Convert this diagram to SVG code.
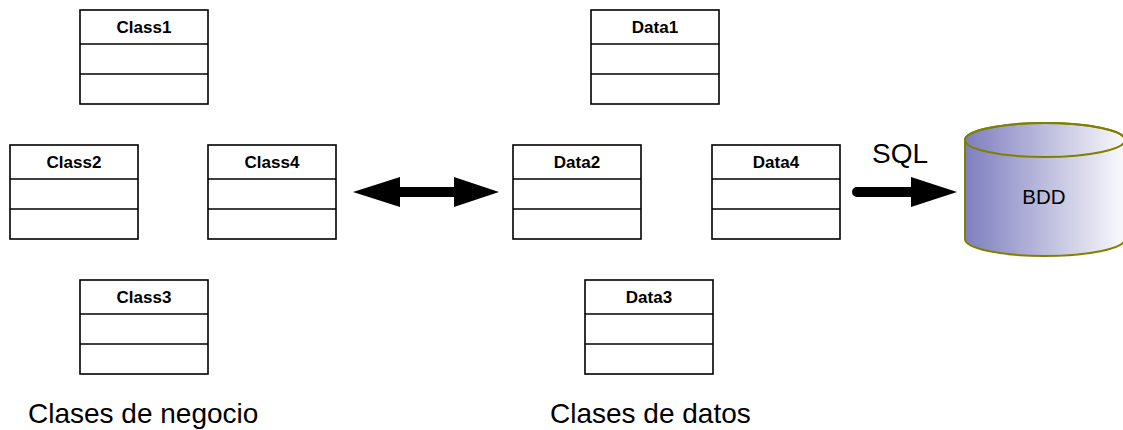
<svg xmlns="http://www.w3.org/2000/svg" width="1123" height="430" viewBox="0 0 1123 430">
<style>
.box{fill:#fff;stroke:#000;stroke-width:1.6}
.div{stroke:#000;stroke-width:1.6}
.lbl{font-family:"Liberation Sans",Arial,sans-serif;font-weight:bold;font-size:17px;text-anchor:middle;fill:#000}
.big{font-family:"Liberation Sans",Arial,sans-serif;font-size:28px;fill:#000}
</style>
<defs>
<linearGradient id="cyl" x1="0" y1="0" x2="1" y2="0">
<stop offset="0" stop-color="#7e7ebf"/>
<stop offset="1" stop-color="#fafafc"/>
</linearGradient>
</defs>
<rect width="1123" height="430" fill="#fff"/>

<g id="Class1" transform="translate(80,10)">
<rect class="box" x="0" y="0" width="128" height="94"/>
<line class="div" x1="0" y1="34" x2="128" y2="34"/>
<line class="div" x1="0" y1="64" x2="128" y2="64"/>
<text class="lbl" x="64" y="23">Class1</text>
</g>
<g id="Class2" transform="translate(10,145)">
<rect class="box" x="0" y="0" width="128" height="94"/>
<line class="div" x1="0" y1="34" x2="128" y2="34"/>
<line class="div" x1="0" y1="64" x2="128" y2="64"/>
<text class="lbl" x="64" y="23">Class2</text>
</g>
<g id="Class4" transform="translate(208,145)">
<rect class="box" x="0" y="0" width="128" height="94"/>
<line class="div" x1="0" y1="34" x2="128" y2="34"/>
<line class="div" x1="0" y1="64" x2="128" y2="64"/>
<text class="lbl" x="64" y="23">Class4</text>
</g>
<g id="Class3" transform="translate(80,280)">
<rect class="box" x="0" y="0" width="128" height="94"/>
<line class="div" x1="0" y1="34" x2="128" y2="34"/>
<line class="div" x1="0" y1="64" x2="128" y2="64"/>
<text class="lbl" x="64" y="23">Class3</text>
</g>
<g id="Data1" transform="translate(591,10)">
<rect class="box" x="0" y="0" width="128" height="94"/>
<line class="div" x1="0" y1="34" x2="128" y2="34"/>
<line class="div" x1="0" y1="64" x2="128" y2="64"/>
<text class="lbl" x="64" y="23">Data1</text>
</g>
<g id="Data2" transform="translate(513,145)">
<rect class="box" x="0" y="0" width="128" height="94"/>
<line class="div" x1="0" y1="34" x2="128" y2="34"/>
<line class="div" x1="0" y1="64" x2="128" y2="64"/>
<text class="lbl" x="64" y="23">Data2</text>
</g>
<g id="Data4" transform="translate(712,145)">
<rect class="box" x="0" y="0" width="128" height="94"/>
<line class="div" x1="0" y1="34" x2="128" y2="34"/>
<line class="div" x1="0" y1="64" x2="128" y2="64"/>
<text class="lbl" x="64" y="23">Data4</text>
</g>
<g id="Data3" transform="translate(585,280)">
<rect class="box" x="0" y="0" width="128" height="94"/>
<line class="div" x1="0" y1="34" x2="128" y2="34"/>
<line class="div" x1="0" y1="64" x2="128" y2="64"/>
<text class="lbl" x="64" y="23">Data3</text>
</g>

<g id="BDD">
<path d="M965,140 L965,239 A80,17 0 0 0 1125,239 L1125,140 A80,17 0 0 0 965,140 Z" fill="url(#cyl)" stroke="#808000" stroke-width="2"/>
<ellipse cx="1045" cy="140" rx="80" ry="17" fill="none" stroke="#808000" stroke-width="2"/>
<text x="1044" y="204" font-family="Liberation Sans, Arial, sans-serif" font-size="20.5" text-anchor="middle" fill="#000">BDD</text>
</g>

<g id="connectors">
<polygon points="353,192 400,177 400,187 454,187 454,177 499,192 454,207 454,197 400,197 400,207" fill="#000"/>
<line x1="857" y1="192" x2="914" y2="192" stroke="#000" stroke-width="10" stroke-linecap="round"/>
<polygon points="911,177 957,192 911,207" fill="#000"/>
<text class="big" x="872" y="163">SQL</text>
</g>

<text class="big" x="28" y="423">Clases de negocio</text>
<text class="big" x="550" y="423">Clases de datos</text>
</svg>
